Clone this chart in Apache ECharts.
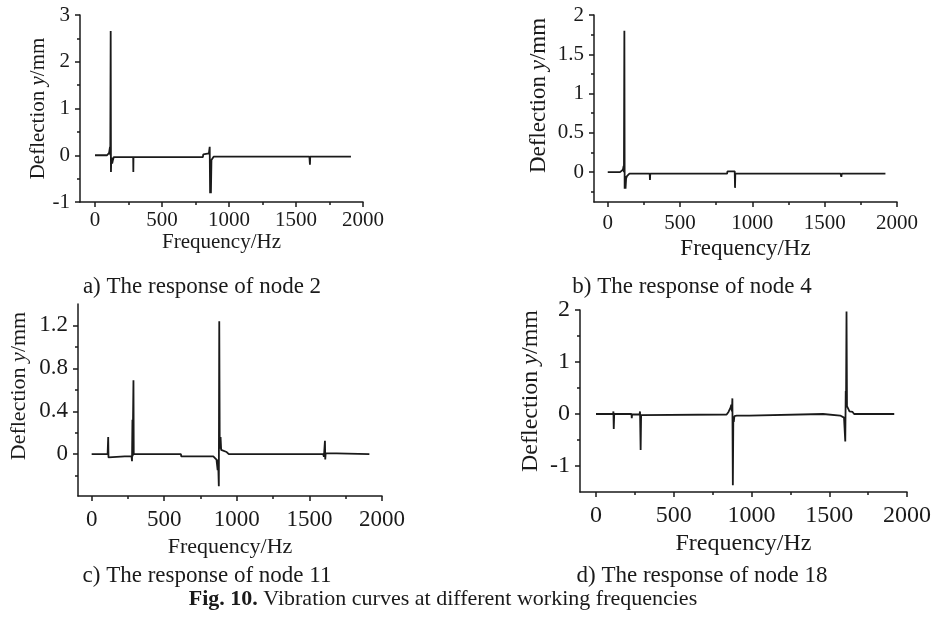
<!DOCTYPE html>
<html>
<head>
<meta charset="utf-8">
<script src="https://cdn.jsdelivr.net/npm/echarts@6/dist/echarts.min.js"></script>
<style>html,body{margin:0;padding:0;background:#fff;}#c{width:934px;height:620px;}</style>
</head>
<body>
<div id="c"></div>
<script>
// ---- data (frequency in Hz, deflection in mm) ----
const node2Freq = [0, 90, 105, 112, 114, 117, 119, 121, 124, 128, 134, 140, 285, 286, 287, 805, 808, 850, 856, 859, 862, 865, 869, 876, 885, 1600, 1602, 1604, 1606, 1910];
const node2Defl = [0, 0, 0.05, 0.18, 0.0, 2.66, -0.36, -0.1, -0.05, -0.18, -0.1, -0.04, -0.04, -0.36, -0.04, -0.04, 0.02, 0.04, 0.18, -0.81, -0.3, -0.81, -0.1, -0.07, -0.03, -0.03, 0.01, -0.2, -0.03, -0.03];

const node4Freq = [0, 85, 105, 110, 112, 115, 117, 120, 123, 127, 133, 150, 290, 292, 294, 825, 828, 878, 880, 882, 1610, 1615, 1618, 1920];
const node4Defl = [0, 0, 0.03, 0.08, 0.0, 1.8, -0.21, -0.05, -0.21, -0.08, -0.05, -0.02, -0.02, -0.1, -0.02, -0.02, 0.01, 0.01, -0.2, -0.02, -0.02, -0.06, -0.02, -0.02];

const node11Freq = [0, 110, 114, 116, 120, 228, 230, 232, 275, 278, 281, 283, 285, 288, 290, 615, 617, 838, 860, 866, 868, 871, 873, 876, 879, 882, 884, 888, 892, 905, 930, 945, 1595, 1600, 1605, 1607, 1609, 1612, 1620, 1913];
const node11Defl = [0, 0, 0.16, -0.03, -0.02, -0.02, -0.03, -0.02, -0.02, -0.065, 0.32, -0.02, 0.32, 0.69, 0, 0, -0.02, -0.02, -0.05, -0.06, -0.15, -0.05, -0.15, -0.3, 1.24, 0.16, 0.05, 0.16, 0.04, 0.03, 0.02, 0, 0, -0.025, -0.04, 0.125, -0.05, 0.01, 0, 0];

const node18Freq = [0, 110, 112, 114, 117, 228, 230, 232, 280, 283, 287, 290, 300, 840, 852, 865, 870, 874, 877, 880, 883, 886, 890, 905, 985, 988, 1460, 1463, 1570, 1595, 1600, 1603, 1606, 1608, 1611, 1614, 1625, 1630, 1650, 1660, 1918];
const node18Defl = [0, 0, 0.05, -0.29, 0, 0, -0.08, -0.01, -0.01, 0.05, -0.69, -0.02, -0.01, -0.01, 0.04, 0.12, 0.18, 0.05, 0.3, -1.37, -0.1, -0.15, -0.04, -0.03, -0.03, 0, 0, -0.03, -0.03, -0.07, -0.1, -0.53, 0.44, 0.25, 1.97, 0.15, 0.12, 0.05, 0.04, 0, 0];

// ---- tick values ----
const xMajorTicks = [0, 500, 1000, 1500, 2000];
const xMinorTicks = [250, 750, 1250, 1750];
const yMajorA = [-1, 0, 1, 2, 3];
const yMinorA = [-0.5, 0.5, 1.5, 2.5];
const yMajorB = [0, 0.5, 1, 1.5, 2];
const yMinorB = [-0.25, 0.25, 0.75, 1.25, 1.75];
const yMajorC = [0, 0.4, 0.8, 1.2];
const yMinorC = [-0.2, 0.2, 0.6, 1.0];
const yMajorD = [-1, 0, 1, 2];
const yMinorD = [-0.5, 0.5, 1.5];

const captions = ['a) The response of node 2', 'b) The response of node 4', 'c) The response of node 11', 'd) The response of node 18'];
const figTitle = 'Vibration curves at different working frequencies';

const FONT = '"Liberation Serif", "Times New Roman", serif';
const INK = '#1a1a1a';

const panels = [
  {freq: node2Freq, defl: node2Defl, grid: {left: 80, top: 15, width: 283, height: 187}, xmin: -112, ymin: -1, ymax: 3, yMaj: yMajorA, yMin: yMinorA, fs: 21, nameFs: 21, nameGap: 31, namePad: 0, xNameGap: 30, xMargin: 8},
  {freq: node4Freq, defl: node4Defl, grid: {left: 594, top: 15, width: 303, height: 187}, xmin: -95, ymin: -0.38, ymax: 2, yMaj: yMajorB, yMin: yMinorB, fs: 21, nameFs: 23, nameGap: 44, namePad: 26, xNameGap: 35, xMargin: 11},
  {freq: node11Freq, defl: node11Defl, grid: {left: 78, top: 304, width: 304, height: 192}, xmin: -94, ymin: -0.39, ymax: 1.4, yMaj: yMajorC, yMin: yMinorC, fs: 23, nameFs: 22, nameGap: 48, namePad: 28, xNameGap: 40, xMargin: 12},
  {freq: node18Freq, defl: node18Defl, grid: {left: 580, top: 310, width: 327, height: 182}, xmin: -103, ymin: -1.5, ymax: 2, yMaj: yMajorD, yMin: yMinorD, fs: 24, nameFs: 24, nameGap: 37, namePad: 20, xNameGap: 40, xMargin: 12}
];

const plain = v => String(v);

const grid = [], xAxis = [], yAxis = [], series = [];
panels.forEach((p, i) => {
  grid.push(Object.assign({containLabel: false}, p.grid));
  const lineStyle = {color: INK, width: 1.5};
  xAxis.push({
    type: 'value', gridIndex: i, min: p.xmin, max: 2000, position: 'bottom',
    name: 'Frequency/Hz', nameLocation: 'middle', nameGap: p.xNameGap,
    nameTextStyle: {fontFamily: FONT, fontSize: p.nameFs, color: INK},
    axisLine: {show: true, onZero: false, lineStyle},
    axisTick: {show: true, inside: false, length: 5, customValues: xMajorTicks, lineStyle},
    axisLabel: {show: true, customValues: xMajorTicks, formatter: plain, fontFamily: FONT, fontSize: p.fs, color: INK, margin: p.xMargin},
    splitLine: {show: false}
  });
  xAxis.push({
    type: 'value', gridIndex: i, min: p.xmin, max: 2000, position: 'bottom',
    axisLine: {show: false, onZero: false},
    axisTick: {show: true, inside: false, length: 3, customValues: xMinorTicks, lineStyle},
    axisLabel: {show: false}, splitLine: {show: false}
  });
  yAxis.push({
    type: 'value', gridIndex: i, min: p.ymin, max: p.ymax, position: 'left',
    name: '{n|Deflection }{i|y}{n|/mm}', nameLocation: 'middle', nameGap: p.nameGap, nameRotate: 90,
    nameTextStyle: {fontFamily: FONT, fontSize: p.nameFs, color: INK, padding: [0, 0, 0, p.namePad],
      rich: {n: {fontFamily: FONT, fontSize: p.nameFs, color: INK}, i: {fontFamily: FONT, fontSize: p.nameFs, fontStyle: 'italic', color: INK}}},
    axisLine: {show: true, onZero: false, lineStyle},
    axisTick: {show: true, inside: false, length: 5, customValues: p.yMaj, lineStyle},
    axisLabel: {show: true, customValues: p.yMaj, formatter: plain, fontFamily: FONT, fontSize: p.fs, color: INK, margin: 10},
    splitLine: {show: false}
  });
  yAxis.push({
    type: 'value', gridIndex: i, min: p.ymin, max: p.ymax, position: 'left',
    axisLine: {show: false, onZero: false},
    axisTick: {show: true, inside: false, length: 3, customValues: p.yMin, lineStyle},
    axisLabel: {show: false}, splitLine: {show: false}
  });
  series.push({
    type: 'line', xAxisIndex: 2 * i, yAxisIndex: 2 * i,
    data: p.freq.map((f, k) => [f, p.defl[k]]),
    showSymbol: false, symbol: 'none', animation: false,
    lineStyle: {color: INK, width: 1.8}
  });
});

const capStyle = (x, y, text) => ({
  type: 'text', x: x, y: y,
  style: {text: text, fontFamily: FONT, fontSize: 23, fill: INK, textAlign: 'center', textVerticalAlign: 'middle'}
});

const graphic = [
  capStyle(202, 287, captions[0]),
  capStyle(692, 287, captions[1]),
  capStyle(207, 576, captions[2]),
  capStyle(702, 576, captions[3]),
  {
    type: 'text', x: 443, y: 599,
    style: {
      text: '{b|Fig. 10.} ' + figTitle,
      fontFamily: FONT, fontSize: 22, fill: INK, textAlign: 'center', textVerticalAlign: 'middle',
      rich: {b: {fontFamily: FONT, fontSize: 22, fontWeight: 'bold', fill: INK}}
    }
  }
];

const chart = echarts.init(document.getElementById('c'), null, {renderer: 'canvas'});
chart.setOption({
  animation: false,
  backgroundColor: '#fff',
  grid, xAxis, yAxis, series, graphic
});
</script>
</body>
</html>
